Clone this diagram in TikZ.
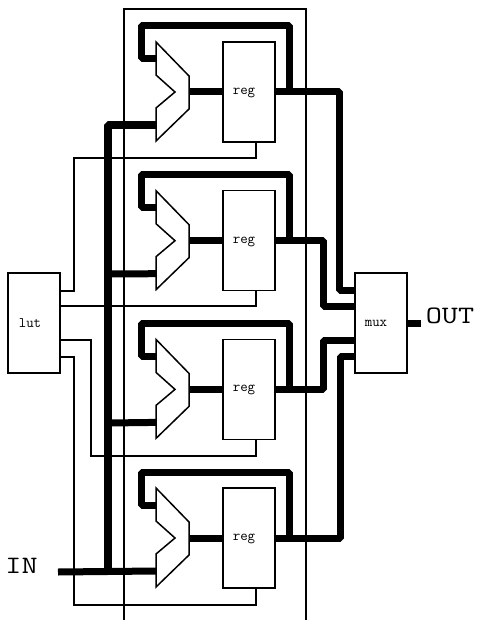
\documentclass[tikz,border=0pt]{standalone}
\usepackage{fontspec}
\newcommand{\boxtext}[3]{\raisebox{#2}{#3\hspace{#1}}}
\tikzset{
  thinw/.style={line width=1.5pt,line join=miter},
  thickw/.style={line width=7pt,line join=bevel},
  busw/.style={line width=7.5pt,line join=bevel},
  boxn/.style={draw,fill=white,line width=1.5pt,inner sep=0pt,minimum width=52pt,minimum height=100pt,font=\ttfamily\fontsize{14.5}{15}\selectfont},
  muxs/.style={draw,fill=white,line width=1.5pt,line join=miter},
  bigt/.style={inner sep=0pt,anchor=center,xscale=1.25,transform shape,font=\ttfamily\fontsize{25}{26}\selectfont}
}
\begin{document}
\begin{tikzpicture}[x=1pt,y=-1pt]
\useasboundingbox (0,0) rectangle (477,620);
% frame
\coordinate (fa) at (124,620);
\coordinate (fb) at (124,9);
\coordinate (fc) at (306,9);
\coordinate (fd) at (306,620);
\draw[thinw] (fa) -- (fb) -- (fc) -- (fd);
% boxes
\node[boxn] (lut) at (34,323) {\boxtext{8pt}{-6.5pt}{lut}};
\node[boxn] (mx) at (381,323) {\boxtext{10pt}{-6.5pt}{mux}};
\node[bigt] (out) at (450,315.5) {OUT};
\node[bigt] (in) at (21.5,565.5) {IN};
\foreach \i/\o in {1/0,2/148.7,3/297.4,4/446}{
  \node[boxn] (r\i) at (249,92+\o) {\boxtext{10pt}{-8pt}{reg}};
  \coordinate (mt\i) at (156,42+\o);
  \coordinate (ma\i) at (189,76+\o);
  \coordinate (mo\i) at (189,92+\o);
  \coordinate (mb\i) at (189,109+\o);
  \coordinate (mc\i) at (156,141+\o);
  \coordinate (md\i) at (156,108+\o);
  \coordinate (me\i) at (175,92+\o);
  \coordinate (mf\i) at (156,75+\o);
  \coordinate (ia\i) at (156,59+\o);
  \coordinate (ib\i) at (156,125+\o);
  \coordinate (fj\i) at (289,92+\o);
  \coordinate (fu\i) at (289,26+\o);
  \coordinate (fl\i) at (141,26+\o);
  \draw[thickw] (fj\i) -- (fu\i) -- (fl\i) |- (ia\i);
  \draw[thickw] (mo\i) -- (r\i.west);
  \draw[muxs] (mt\i) -- (ma\i) -- (mb\i) -- (mc\i) -- (md\i) -- (me\i) -- (mf\i) -- cycle;
}
% thin lut lines
\coordinate (la) at (74,291);
\coordinate (lb) at (74,158);
\coordinate (lc) at (60,306);
\coordinate (ld) at (91,340);
\coordinate (le) at (91,456);
\coordinate (lf) at (74,357);
\coordinate (lg) at (74,605);
\coordinate (cb1) at (256,158);
\coordinate (cb2) at (256,306);
\coordinate (cb3) at (256,456);
\coordinate (cb4) at (256,605);
\draw[thinw] (lut.east |- la) -- (la) -- (lb) -- (cb1) -- (r1.south -| cb1);
\draw[thinw] (lc) -- (cb2) -- (r2.south -| cb2);
\draw[thinw] (lut.east |- ld) -- (ld) -- (le) -- (cb3) -- (r3.south -| cb3);
\draw[thinw] (lut.east |- lf) -- (lf) -- (lg) -- (cb4) -- (r4.south -| cb4);
% outputs to mux
\coordinate (a1) at (339,290);
\coordinate (a2) at (323,306);
\coordinate (a3) at (323,340);
\coordinate (a4) at (340,356);
\foreach \i in {1,2,3,4}{
  \draw[thickw] (r\i.east) -| (a\i) -- (a\i -| mx.west);
}
\coordinate (ot) at (421,323);
\draw[thickw] (mx.east) -- (ot);
% input bus
\coordinate (ist) at (58,572);
\coordinate (bt) at (108,125);
\coordinate (bb) at (108,572);
\coordinate (bc) at (108,274);
\coordinate (bd) at (108,423);
\draw[thickw] (ist) -- (ib4);
\draw[busw] (bb) -- (bt) -- (ib1);
\draw[thickw] (bc) -- (ib2);
\draw[thickw] (bd) -- (ib3);
\end{tikzpicture}
\end{document}
